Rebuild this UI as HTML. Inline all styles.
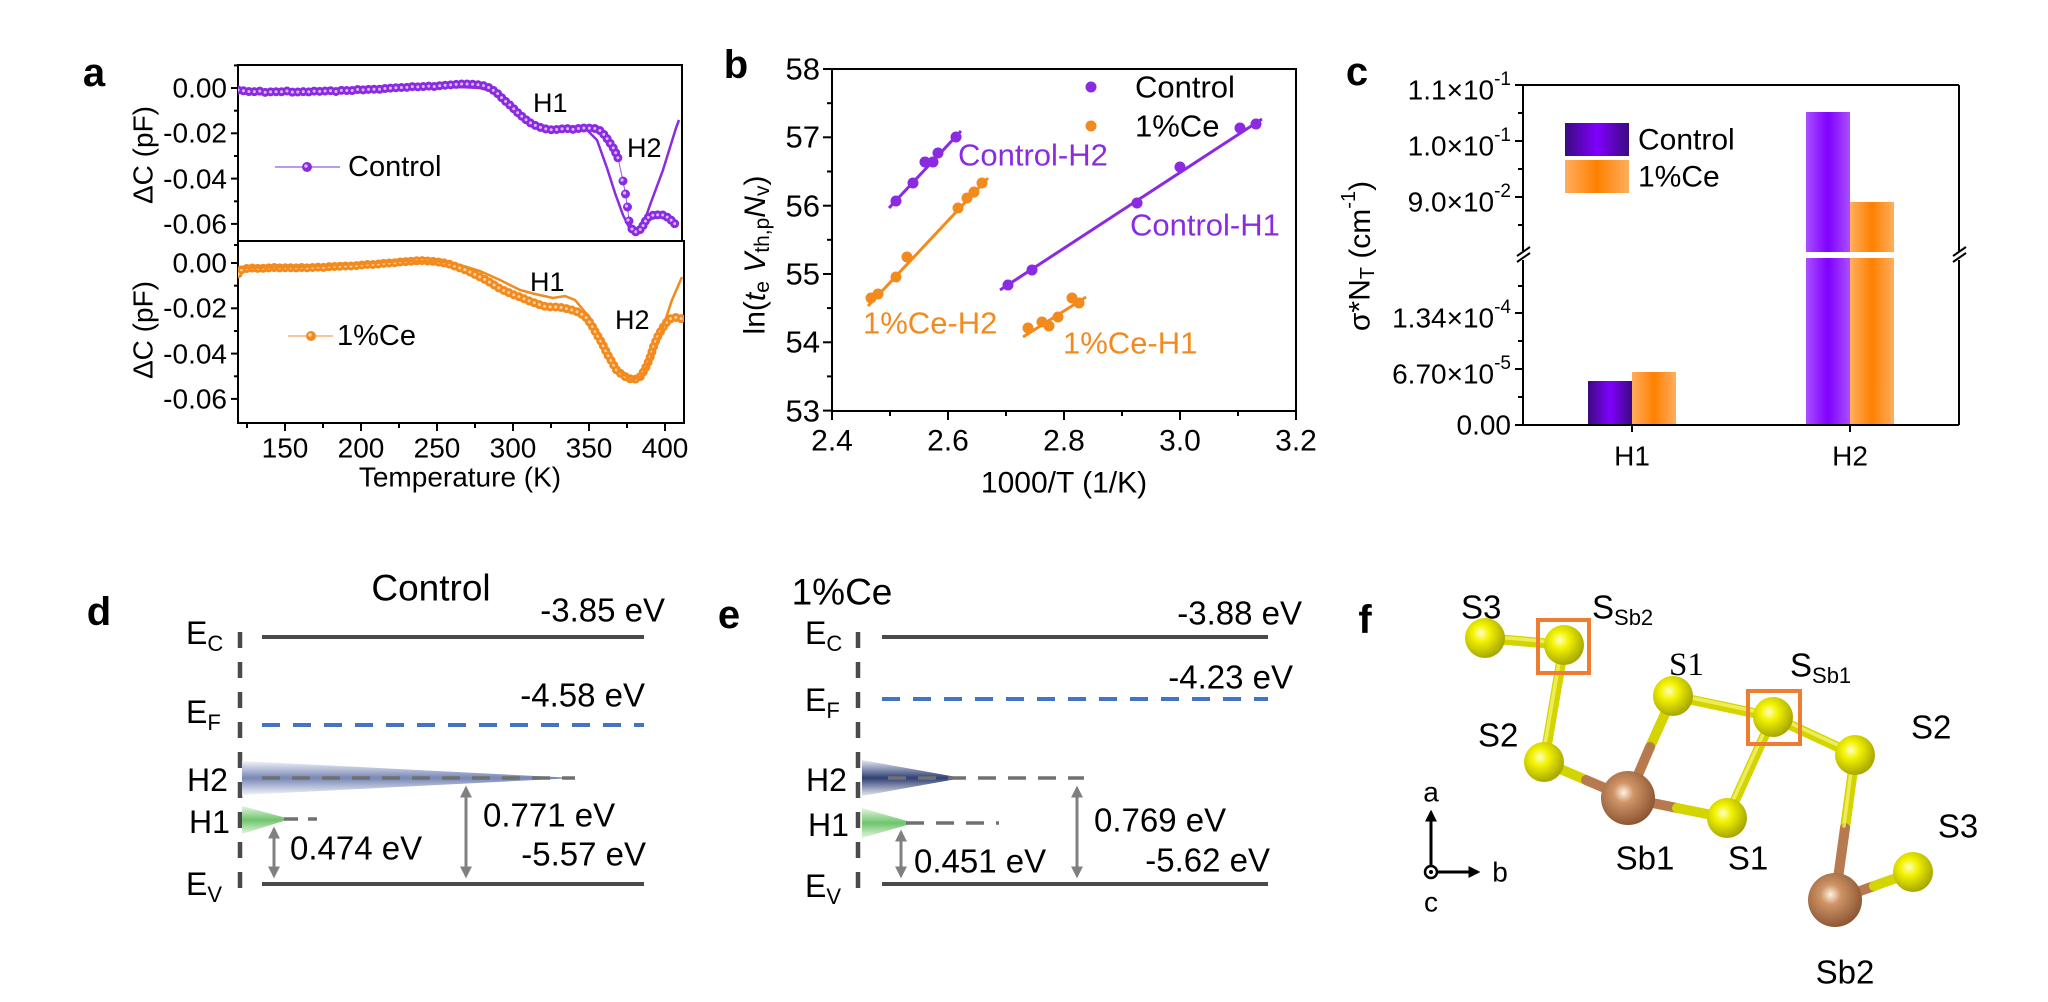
<!DOCTYPE html>
<html><head><meta charset="utf-8"><style>
html,body{margin:0;padding:0;background:#fff;}
svg{display:block;font-family:"Liberation Sans",Arial,sans-serif;}
</style></head><body>
<svg width="2048" height="1002" viewBox="0 0 2048 1002" xmlns="http://www.w3.org/2000/svg">
<defs>
<linearGradient id="gPD" x1="0" x2="1" y1="0" y2="0"><stop offset="0" stop-color="#3a0a80"/><stop offset="0.5" stop-color="#8000ff"/><stop offset="1" stop-color="#3a0a80"/></linearGradient>
<linearGradient id="gPL" x1="0" x2="1" y1="0" y2="0"><stop offset="0" stop-color="#a84fff"/><stop offset="0.5" stop-color="#8000ff"/><stop offset="1" stop-color="#a84fff"/></linearGradient>
<linearGradient id="gOR" x1="0" x2="1" y1="0" y2="0"><stop offset="0" stop-color="#ffae5e"/><stop offset="0.5" stop-color="#ff8000"/><stop offset="1" stop-color="#ffae5e"/></linearGradient>
<radialGradient id="gY" cx="0.4" cy="0.38" r="0.62"><stop offset="0" stop-color="#ffffc0"/><stop offset="0.35" stop-color="#f2f200"/><stop offset="1" stop-color="#a8a800"/></radialGradient>
<radialGradient id="gSb" cx="0.42" cy="0.4" r="0.62"><stop offset="0" stop-color="#fff2e4"/><stop offset="0.3" stop-color="#cf9466"/><stop offset="1" stop-color="#8a5532"/></radialGradient>
<linearGradient id="gH2d" x1="0" x2="0" y1="0" y2="1"><stop offset="0" stop-color="#f2f4fa"/><stop offset="0.5" stop-color="#7787b5"/><stop offset="1" stop-color="#f2f4fa"/></linearGradient>
<linearGradient id="gH2e" x1="0" x2="0" y1="0" y2="1"><stop offset="0" stop-color="#e6eaf5"/><stop offset="0.5" stop-color="#2f3f73"/><stop offset="1" stop-color="#e6eaf5"/></linearGradient>
<linearGradient id="gG" x1="0" x2="0" y1="0" y2="1"><stop offset="0" stop-color="#e4f6e0"/><stop offset="0.5" stop-color="#6fc46c"/><stop offset="1" stop-color="#e4f6e0"/></linearGradient>
<marker id="ag" viewBox="0 0 10 10" refX="8" refY="5" markerWidth="4" markerHeight="4" orient="auto-start-reverse"><path d="M0,0 L10,5 L0,10 z" fill="#808080"/></marker>
<marker id="ak" viewBox="0 0 10 10" refX="8" refY="5" markerWidth="4" markerHeight="4" orient="auto"><path d="M0,0 L10,5 L0,10 z" fill="#000"/></marker>
<clipPath id="cTop"><rect x="238" y="65" width="444" height="176"/></clipPath>
<clipPath id="cBot"><rect x="238" y="241" width="446" height="182"/></clipPath>
</defs>

<!-- ============ Panel a ============ -->
<text x="94" y="73" font-size="40" font-weight="bold" text-anchor="middle" dominant-baseline="central">a</text>
<g stroke="#000" stroke-width="2" fill="none">
<rect x="238" y="65" width="444" height="176"/>
<rect x="238" y="241" width="446" height="182"/>
</g>
<g stroke="#000" stroke-width="2">
<!-- top y ticks -->
<line x1="231" y1="88" x2="238" y2="88"/><line x1="231" y1="133.3" x2="238" y2="133.3"/><line x1="231" y1="178.6" x2="238" y2="178.6"/><line x1="231" y1="223.9" x2="238" y2="223.9"/>
<line x1="234" y1="65.4" x2="238" y2="65.4"/><line x1="234" y1="110.7" x2="238" y2="110.7"/><line x1="234" y1="156" x2="238" y2="156"/><line x1="234" y1="201.3" x2="238" y2="201.3"/>
<!-- bottom y ticks -->
<line x1="231" y1="263" x2="238" y2="263"/><line x1="231" y1="308.3" x2="238" y2="308.3"/><line x1="231" y1="353.6" x2="238" y2="353.6"/><line x1="231" y1="398.9" x2="238" y2="398.9"/>
<line x1="234" y1="245" x2="238" y2="245"/><line x1="234" y1="285.7" x2="238" y2="285.7"/><line x1="234" y1="331" x2="238" y2="331"/><line x1="234" y1="376.3" x2="238" y2="376.3"/>
<!-- x ticks -->
<line x1="285" y1="423" x2="285" y2="431"/><line x1="361" y1="423" x2="361" y2="431"/><line x1="437" y1="423" x2="437" y2="431"/><line x1="513" y1="423" x2="513" y2="431"/><line x1="589" y1="423" x2="589" y2="431"/><line x1="665" y1="423" x2="665" y2="431"/>
<line x1="247" y1="423" x2="247" y2="428"/><line x1="323" y1="423" x2="323" y2="428"/><line x1="399" y1="423" x2="399" y2="428"/><line x1="475" y1="423" x2="475" y2="428"/><line x1="551" y1="423" x2="551" y2="428"/><line x1="627" y1="423" x2="627" y2="428"/>
</g>
<g font-size="28" text-anchor="end" dominant-baseline="central">
<text x="227" y="88">0.00</text><text x="227" y="133">-0.02</text><text x="227" y="179">-0.04</text><text x="227" y="224">-0.06</text>
<text x="227" y="263">0.00</text><text x="227" y="308">-0.02</text><text x="227" y="354">-0.04</text><text x="227" y="399">-0.06</text>
</g>
<g font-size="28" text-anchor="middle" dominant-baseline="central">
<text x="285" y="448">150</text><text x="361" y="448">200</text><text x="437" y="448">250</text><text x="513" y="448">300</text><text x="589" y="448">350</text><text x="665" y="448">400</text>
<text x="460" y="477">Temperature (K)</text>
<text transform="translate(143,155) rotate(-90)">ΔC (pF)</text>
<text transform="translate(143,330) rotate(-90)">ΔC (pF)</text>
</g>
<!-- top data -->
<g clip-path="url(#cTop)">
<polyline fill="none" stroke="#8a2be2" stroke-width="2.5" points="238,91 300,91.5 360,90 420,88 460,87 480,88 495,92 507,101 520,113 535,123 550,128 575,129.5 587,130 597,140 607,168 615,193 623,215 630,229 636,233 642,228 650,205 663,170 676,128 679,120"/>
<polyline fill="none" stroke="#9b59e8" stroke-width="1" points="618,158 623,181 625.5,194 627.5,207 629,221 632,229"/>
<polyline id="tdA" fill="none" stroke="#8a2be2" stroke-width="9" stroke-linecap="round" stroke-dasharray="0 5.5" points="238,90 245,91 252,92 259,91 266,92.5 273,91.5 280,92 287,91 294,92.5 301,91.5 308,92 315,91 322,91.5 329,90.5 336,91.5 343,90 350,91 357,89.5 364,90 371,89 378,89.5 385,88.5 392,88 399,87.5 406,87.5 413,86.5 420,87 427,86 434,86.5 441,85.5 448,85 455,84.5 462,84 469,84 476,84.5 483,85.5 490,88 497,93 504,100 511,106 518,113 525,119 532,124 539,127 546,129 553,130 560,129 567,128.5 574,129.5 581,128 588,128 595,128.5 601,131 606,137 610,143 614,149 618,158"/>
<polyline fill="none" stroke="#d9b8ff" stroke-width="3" stroke-linecap="round" stroke-dasharray="0 5.5" points="238,90 245,91 252,92 259,91 266,92.5 273,91.5 280,92 287,91 294,92.5 301,91.5 308,92 315,91 322,91.5 329,90.5 336,91.5 343,90 350,91 357,89.5 364,90 371,89 378,89.5 385,88.5 392,88 399,87.5 406,87.5 413,86.5 420,87 427,86 434,86.5 441,85.5 448,85 455,84.5 462,84 469,84 476,84.5 483,85.5 490,88 497,93 504,100 511,106 518,113 525,119 532,124 539,127 546,129 553,130 560,129 567,128.5 574,129.5 581,128 588,128 595,128.5 601,131 606,137 610,143 614,149 618,158"/>
<g fill="#8a2be2"><circle cx="623" cy="181" r="4.5"/><circle cx="625.5" cy="194" r="4.5"/><circle cx="627.5" cy="207" r="4.5"/><circle cx="629" cy="221" r="4.5"/></g>
<g fill="#d9b8ff"><circle cx="622" cy="180" r="1.6"/><circle cx="624.5" cy="193" r="1.6"/><circle cx="626.5" cy="206" r="1.6"/><circle cx="628" cy="220" r="1.6"/></g>
<polyline fill="none" stroke="#8a2be2" stroke-width="9" stroke-linecap="round" stroke-dasharray="0 5" points="632,229 635,232 638,231 641,229 644,224 647,218 651,216 655,214.5 659,215 663,215 667,217 671,220 675,224 679,226"/>
<polyline fill="none" stroke="#d9b8ff" stroke-width="3" stroke-linecap="round" stroke-dasharray="0 5" points="632,229 635,232 638,231 641,229 644,224 647,218 651,216 655,214.5 659,215 663,215 667,217 671,220 675,224 679,226"/>
</g>
<!-- bottom data -->
<g clip-path="url(#cBot)">
<polyline fill="none" stroke="#f28a1e" stroke-width="9" stroke-linecap="round" stroke-dasharray="0 5.5" points="238,274 241,270 246,268.5 253,268 260,268.5 267,268 274,267.5 281,268 288,267.5 295,268 302,267.5 309,268 316,267 323,267.5 330,266.5 337,266.5 344,266 351,266 358,265.5 365,264.5 372,264.5 379,264 386,263 393,263 400,262 407,261.5 414,261 421,260.5 428,261 435,261.5 442,262.5 449,264 456,266.5 463,269 470,272 477,275.5 484,279 491,283 498,287.5 505,291 513,294.5 520,297 528,300.5 535,303 543,306 551,307 559,307 566,308.5 574,310.5 580,313 586,317.5 591,324 596,333 602,343 607,353.5 612,362 616,369.5 620,373 624,376 628,378 632,379.5 636,379 640,377 644,371 647,365 651,355 654,345 658,336 662,329 666,323 670,319 674,317.5 678,317.5 682,319"/>
<polyline fill="none" stroke="#ffd2a0" stroke-width="3" stroke-linecap="round" stroke-dasharray="0 5.5" points="238,274 241,270 246,268.5 253,268 260,268.5 267,268 274,267.5 281,268 288,267.5 295,268 302,267.5 309,268 316,267 323,267.5 330,266.5 337,266.5 344,266 351,266 358,265.5 365,264.5 372,264.5 379,264 386,263 393,263 400,262 407,261.5 414,261 421,260.5 428,261 435,261.5 442,262.5 449,264 456,266.5 463,269 470,272 477,275.5 484,279 491,283 498,287.5 505,291 513,294.5 520,297 528,300.5 535,303 543,306 551,307 559,307 566,308.5 574,310.5 580,313 586,317.5 591,324 596,333 602,343 607,353.5 612,362 616,369.5 620,373 624,376 628,378 632,379.5 636,379 640,377 644,371 647,365 651,355 654,345 658,336 662,329 666,323 670,319 674,317.5 678,317.5 682,319"/>
<polyline fill="none" stroke="#f28a1e" stroke-width="2.5" points="238,268 300,267 360,264 400,261 440,261.5 460,265 480,271 500,280 520,290 535,294 553,298 565,296 575,300 590,318 605,345 620,372 632,380 642,376 652,355 662,330 672,300 682,277"/>
</g>
<!-- a legends & labels -->
<line x1="275" y1="167" x2="340" y2="167" stroke="#9b59e8" stroke-width="1.2"/>
<circle cx="307" cy="167" r="5" fill="#8a2be2"/><circle cx="306" cy="166" r="1.8" fill="#d9b8ff"/>
<text x="348" y="167" font-size="29" dominant-baseline="central">Control</text>
<line x1="288" y1="336" x2="333" y2="336" stroke="#f2a560" stroke-width="1.2"/>
<circle cx="311" cy="336" r="5" fill="#f28a1e"/><circle cx="310" cy="335" r="1.8" fill="#ffd2a0"/>
<text x="337" y="336" font-size="29" dominant-baseline="central">1%Ce</text>
<g font-size="27" dominant-baseline="central">
<text x="533" y="103">H1</text><text x="627" y="148">H2</text>
<text x="530" y="282">H1</text><text x="615" y="320">H2</text>
</g>

<!-- ============ Panel b ============ -->
<text x="736" y="65" font-size="40" font-weight="bold" text-anchor="middle" dominant-baseline="central">b</text>
<rect x="832" y="69" width="464" height="342" fill="none" stroke="#000" stroke-width="2"/>
<g stroke="#000" stroke-width="2">
<line x1="823" y1="69" x2="832" y2="69"/><line x1="823" y1="137.3" x2="832" y2="137.3"/><line x1="823" y1="205.7" x2="832" y2="205.7"/><line x1="823" y1="274" x2="832" y2="274"/><line x1="823" y1="342.3" x2="832" y2="342.3"/><line x1="823" y1="410.6" x2="832" y2="410.6"/>
<line x1="827" y1="103.2" x2="832" y2="103.2"/><line x1="827" y1="171.5" x2="832" y2="171.5"/><line x1="827" y1="239.8" x2="832" y2="239.8"/><line x1="827" y1="308.1" x2="832" y2="308.1"/><line x1="827" y1="376.4" x2="832" y2="376.4"/>
<line x1="832" y1="411" x2="832" y2="420"/><line x1="948" y1="411" x2="948" y2="420"/><line x1="1064" y1="411" x2="1064" y2="420"/><line x1="1180" y1="411" x2="1180" y2="420"/><line x1="1296" y1="411" x2="1296" y2="420"/>
<line x1="890" y1="411" x2="890" y2="416"/><line x1="1006" y1="411" x2="1006" y2="416"/><line x1="1122" y1="411" x2="1122" y2="416"/><line x1="1238" y1="411" x2="1238" y2="416"/>
</g>
<g font-size="31" text-anchor="end" dominant-baseline="central">
<text x="820" y="69">58</text><text x="820" y="137">57</text><text x="820" y="206">56</text><text x="820" y="274">55</text><text x="820" y="342">54</text><text x="820" y="411">53</text>
</g>
<g font-size="30" text-anchor="middle" dominant-baseline="central">
<text x="832" y="441">2.4</text><text x="948" y="441">2.6</text><text x="1064" y="441">2.8</text><text x="1180" y="441">3.0</text><text x="1296" y="441">3.2</text>
<text x="1064" y="483">1000/T (1/K)</text>
<text transform="translate(755,255) rotate(-90)">ln(<tspan font-style="italic">t</tspan><tspan font-size="21" dy="7">e</tspan><tspan dy="-7"> </tspan><tspan font-style="italic">V</tspan><tspan font-size="21" dy="7">th,p</tspan><tspan font-style="italic" dy="-7">N</tspan><tspan font-size="21" dy="7">v</tspan><tspan dy="-7">)</tspan></text>
</g>
<g stroke-width="3">
<line x1="889" y1="208" x2="961" y2="131" stroke="#8a2be2"/>
<line x1="868" y1="306" x2="988" y2="178" stroke="#f28a1e"/>
<line x1="1000" y1="290" x2="1262" y2="119" stroke="#8a2be2"/>
<line x1="1023" y1="337" x2="1086" y2="297" stroke="#f28a1e"/>
</g>
<g fill="#8a2be2">
<circle cx="896" cy="201" r="5.5"/><circle cx="913" cy="183" r="5.5"/><circle cx="925" cy="162" r="5.5"/><circle cx="933" cy="162" r="5.5"/><circle cx="938" cy="153" r="5.5"/><circle cx="956" cy="137" r="5.5"/>
<circle cx="1008" cy="285" r="5.5"/><circle cx="1032" cy="270" r="5.5"/><circle cx="1137" cy="203" r="5.5"/><circle cx="1180" cy="167" r="5.5"/><circle cx="1240" cy="128" r="5.5"/><circle cx="1256" cy="124" r="5.5"/>
<circle cx="1091" cy="87" r="5.5"/>
</g>
<g fill="#f28a1e">
<circle cx="871" cy="298" r="5.5"/><circle cx="878" cy="294" r="5.5"/><circle cx="896" cy="277" r="5.5"/><circle cx="907" cy="257" r="5.5"/><circle cx="958" cy="208" r="5.5"/><circle cx="967" cy="198" r="5.5"/><circle cx="974" cy="192" r="5.5"/><circle cx="982" cy="183" r="5.5"/>
<circle cx="1028" cy="328" r="5.5"/><circle cx="1042" cy="322" r="5.5"/><circle cx="1049" cy="326" r="5.5"/><circle cx="1058" cy="317" r="5.5"/><circle cx="1072" cy="298" r="5.5"/><circle cx="1079" cy="303" r="5.5"/>
<circle cx="1091" cy="126" r="5.5"/>
</g>
<g font-size="31" dominant-baseline="central">
<text x="1135" y="87">Control</text><text x="1135" y="126">1%Ce</text>
<text x="958" y="155" fill="#8a2be2">Control-H2</text>
<text x="1130" y="225" fill="#8a2be2">Control-H1</text>
<text x="863" y="323" fill="#f28a1e">1%Ce-H2</text>
<text x="1063" y="343" fill="#f28a1e">1%Ce-H1</text>
</g>

<!-- ============ Panel c ============ -->
<text x="1357" y="72" font-size="40" font-weight="bold" text-anchor="middle" dominant-baseline="central">c</text>
<!-- bars -->
<rect x="1588" y="381" width="44" height="44" fill="url(#gPD)"/>
<rect x="1632" y="372" width="44" height="53" fill="url(#gOR)"/>
<rect x="1806" y="112" width="44" height="313" fill="url(#gPL)"/>
<rect x="1850" y="202" width="44" height="223" fill="url(#gOR)"/>
<rect x="1800" y="252" width="100" height="6" fill="#fff"/>
<!-- axes -->
<g stroke="#000" stroke-width="2" fill="none">
<line x1="1523" y1="85" x2="1959" y2="85"/>
<line x1="1523" y1="425" x2="1959" y2="425"/>
<line x1="1523" y1="85" x2="1523" y2="251"/><line x1="1523" y1="260" x2="1523" y2="425"/>
<line x1="1959" y1="85" x2="1959" y2="251"/><line x1="1959" y1="260" x2="1959" y2="425"/>
<line x1="1517" y1="256" x2="1530" y2="247"/><line x1="1517" y1="262" x2="1530" y2="253"/>
<line x1="1953" y1="256" x2="1966" y2="247"/><line x1="1953" y1="262" x2="1966" y2="253"/>
<line x1="1515" y1="85" x2="1523" y2="85"/><line x1="1515" y1="141" x2="1523" y2="141"/><line x1="1515" y1="197" x2="1523" y2="197"/><line x1="1515" y1="313" x2="1523" y2="313"/><line x1="1515" y1="369" x2="1523" y2="369"/><line x1="1515" y1="425" x2="1523" y2="425"/>
<line x1="1518" y1="113" x2="1523" y2="113"/><line x1="1518" y1="169" x2="1523" y2="169"/><line x1="1518" y1="225" x2="1523" y2="225"/><line x1="1518" y1="286" x2="1523" y2="286"/><line x1="1518" y1="341" x2="1523" y2="341"/><line x1="1518" y1="397" x2="1523" y2="397"/>
<line x1="1632" y1="425" x2="1632" y2="432"/><line x1="1850" y1="425" x2="1850" y2="432"/>
</g>
<g font-size="28" text-anchor="end" dominant-baseline="central">
<text x="1511" y="90">1.1×10<tspan font-size="19" dy="-11">-1</tspan></text>
<text x="1511" y="146">1.0×10<tspan font-size="19" dy="-11">-1</tspan></text>
<text x="1511" y="202">9.0×10<tspan font-size="19" dy="-11">-2</tspan></text>
<text x="1511" y="318">1.34×10<tspan font-size="19" dy="-11">-4</tspan></text>
<text x="1511" y="374">6.70×10<tspan font-size="19" dy="-11">-5</tspan></text>
<text x="1511" y="425">0.00</text>
</g>
<text transform="translate(1360,256) rotate(-90)" font-size="30" text-anchor="middle" dominant-baseline="central">σ*N<tspan font-size="20" dy="8">T</tspan><tspan dy="-8"> (cm</tspan><tspan font-size="20" dy="-11">-1</tspan><tspan dy="11">)</tspan></text>
<g font-size="28" text-anchor="middle" dominant-baseline="central">
<text x="1632" y="456">H1</text><text x="1850" y="456">H2</text>
</g>
<rect x="1565" y="123" width="64" height="33" fill="url(#gPD)"/>
<rect x="1565" y="160" width="64" height="33" fill="url(#gOR)"/>
<text x="1638" y="140" font-size="30" dominant-baseline="central">Control</text>
<text x="1638" y="177" font-size="30" dominant-baseline="central">1%Ce</text>

<!-- ============ Panel d ============ -->
<text x="99" y="612" font-size="40" font-weight="bold" text-anchor="middle" dominant-baseline="central">d</text>
<text x="431" y="588" font-size="37" text-anchor="middle" dominant-baseline="central">Control</text>
<line x1="240" y1="632" x2="240" y2="902" stroke="#4a4a4a" stroke-width="4.5" stroke-dasharray="16 14"/>
<line x1="262" y1="637" x2="644" y2="637" stroke="#4a4a4a" stroke-width="4"/>
<line x1="262" y1="725" x2="644" y2="725" stroke="#4472c4" stroke-width="4" stroke-dasharray="18 13"/>
<polygon points="242,761 575,778 242,795" fill="url(#gH2d)"/>
<line x1="262" y1="778" x2="575" y2="778" stroke="#707070" stroke-width="3.5" stroke-dasharray="18 12"/>
<polygon points="242,806 290,819 242,834" fill="url(#gG)"/>
<line x1="284" y1="819" x2="317" y2="819" stroke="#707070" stroke-width="3.5" stroke-dasharray="14 10"/>
<line x1="262" y1="884" x2="644" y2="884" stroke="#4a4a4a" stroke-width="4"/>
<line x1="274" y1="829" x2="274" y2="876" stroke="#808080" stroke-width="3" marker-start="url(#ag)" marker-end="url(#ag)"/>
<line x1="466" y1="788" x2="466" y2="876" stroke="#808080" stroke-width="3" marker-start="url(#ag)" marker-end="url(#ag)"/>
<g font-size="32" dominant-baseline="central">
<text x="186" y="633">E<tspan font-size="22" dy="10">C</tspan></text>
<text x="186" y="712">E<tspan font-size="22" dy="10">F</tspan></text>
<text x="187" y="780">H2</text>
<text x="189" y="822">H1</text>
<text x="186" y="884">E<tspan font-size="22" dy="10">V</tspan></text>
</g>
<g font-size="33" dominant-baseline="central">
<text x="665" y="610" text-anchor="end">-3.85 eV</text>
<text x="645" y="695" text-anchor="end">-4.58 eV</text>
<text x="646" y="854" text-anchor="end">-5.57 eV</text>
<text x="290" y="848">0.474 eV</text>
<text x="483" y="815">0.771 eV</text>
</g>

<!-- ============ Panel e ============ -->
<text x="729" y="615" font-size="40" font-weight="bold" text-anchor="middle" dominant-baseline="central">e</text>
<text x="842" y="592" font-size="37" text-anchor="middle" dominant-baseline="central">1%Ce</text>
<line x1="858" y1="632" x2="858" y2="902" stroke="#4a4a4a" stroke-width="4.5" stroke-dasharray="16 14"/>
<line x1="882" y1="637" x2="1268" y2="637" stroke="#4a4a4a" stroke-width="4"/>
<line x1="882" y1="699" x2="1268" y2="699" stroke="#4472c4" stroke-width="4" stroke-dasharray="18 13"/>
<polygon points="862,760 962,778 862,796" fill="url(#gH2e)"/>
<line x1="888" y1="778" x2="1084" y2="778" stroke="#707070" stroke-width="3.5" stroke-dasharray="18 12"/>
<polygon points="862,808 914,823 862,838" fill="url(#gG)"/>
<line x1="906" y1="823" x2="999" y2="823" stroke="#707070" stroke-width="3.5" stroke-dasharray="18 12"/>
<line x1="882" y1="884" x2="1268" y2="884" stroke="#4a4a4a" stroke-width="4"/>
<line x1="901" y1="832" x2="901" y2="876" stroke="#808080" stroke-width="3" marker-start="url(#ag)" marker-end="url(#ag)"/>
<line x1="1077" y1="788" x2="1077" y2="876" stroke="#808080" stroke-width="3" marker-start="url(#ag)" marker-end="url(#ag)"/>
<g font-size="32" dominant-baseline="central">
<text x="805" y="633">E<tspan font-size="22" dy="10">C</tspan></text>
<text x="805" y="700">E<tspan font-size="22" dy="10">F</tspan></text>
<text x="806" y="780">H2</text>
<text x="808" y="825">H1</text>
<text x="805" y="886">E<tspan font-size="22" dy="10">V</tspan></text>
</g>
<g font-size="33" dominant-baseline="central">
<text x="1302" y="613" text-anchor="end">-3.88 eV</text>
<text x="1293" y="677" text-anchor="end">-4.23 eV</text>
<text x="1270" y="860" text-anchor="end">-5.62 eV</text>
<text x="914" y="861">0.451 eV</text>
<text x="1094" y="820">0.769 eV</text>
</g>

<!-- ============ Panel f ============ -->
<text x="1365" y="620" font-size="40" font-weight="bold" text-anchor="middle" dominant-baseline="central">f</text>
<!-- bonds -->
<g stroke-width="10" stroke-linecap="round" fill="none">
<line x1="1485" y1="638" x2="1564" y2="645" stroke="#d4d400"/>
<line x1="1564" y1="645" x2="1544" y2="762" stroke="#d4d400"/>
<line x1="1544" y1="762" x2="1586" y2="780" stroke="#d4d400"/>
<line x1="1586" y1="780" x2="1628" y2="798" stroke="#b77a4e"/>
<line x1="1673" y1="696" x2="1650" y2="747" stroke="#d4d400"/>
<line x1="1650" y1="747" x2="1628" y2="798" stroke="#b77a4e"/>
<line x1="1673" y1="696" x2="1773" y2="717" stroke="#d4d400"/>
<line x1="1773" y1="717" x2="1855" y2="755" stroke="#d4d400"/>
<line x1="1773" y1="717" x2="1727" y2="818" stroke="#d4d400"/>
<line x1="1628" y1="798" x2="1677" y2="808" stroke="#b77a4e"/>
<line x1="1677" y1="808" x2="1727" y2="818" stroke="#d4d400"/>
<line x1="1855" y1="755" x2="1845" y2="828" stroke="#d4d400"/>
<line x1="1845" y1="828" x2="1835" y2="900" stroke="#b77a4e"/>
<line x1="1835" y1="900" x2="1874" y2="886" stroke="#b77a4e"/>
<line x1="1874" y1="886" x2="1913" y2="872" stroke="#d4d400"/>
</g>
<g stroke-width="3.5" stroke-linecap="round" fill="none" opacity="0.7">
<line x1="1485" y1="636" x2="1564" y2="643" stroke="#f8f880"/>
<line x1="1562" y1="645" x2="1542" y2="762" stroke="#f8f880"/>
<line x1="1673" y1="694" x2="1773" y2="715" stroke="#f8f880"/>
<line x1="1773" y1="715" x2="1855" y2="753" stroke="#f8f880"/>
<line x1="1771" y1="717" x2="1725" y2="818" stroke="#f8f880"/>
<line x1="1853" y1="755" x2="1844" y2="826" stroke="#f8f880"/>
</g>
<!-- atoms -->
<g fill="url(#gY)">
<circle cx="1485" cy="638" r="20"/>
<circle cx="1564" cy="645" r="20"/>
<circle cx="1544" cy="762" r="20"/>
<circle cx="1673" cy="696" r="20"/>
<circle cx="1773" cy="717" r="20"/>
<circle cx="1855" cy="755" r="20"/>
<circle cx="1727" cy="818" r="20"/>
<circle cx="1913" cy="872" r="20"/>
</g>
<g fill="url(#gSb)">
<circle cx="1628" cy="798" r="27"/>
<circle cx="1835" cy="900" r="27"/>
</g>
<rect x="1538" y="620" width="51" height="53" fill="none" stroke="#ed7d31" stroke-width="4"/>
<rect x="1748" y="691" width="52" height="53" fill="none" stroke="#ed7d31" stroke-width="4"/>
<g font-size="33" dominant-baseline="central">
<text x="1461" y="607">S3</text>
<text x="1592" y="607">S<tspan font-size="22" dy="10">Sb2</tspan></text>
<text x="1669" y="665" font-family="Liberation Serif, serif">S1</text>
<text x="1790" y="665">S<tspan font-size="22" dy="10">Sb1</tspan></text>
<text x="1478" y="735">S2</text>
<text x="1911" y="727">S2</text>
<text x="1645" y="858" text-anchor="middle">Sb1</text>
<text x="1748" y="858" text-anchor="middle">S1</text>
<text x="1958" y="826" text-anchor="middle">S3</text>
<text x="1845" y="972" text-anchor="middle">Sb2</text>
</g>
<!-- axis indicator -->
<g stroke="#000" stroke-width="3" fill="none">
<line x1="1431" y1="866" x2="1431" y2="812" marker-end="url(#ak)"/>
<line x1="1437" y1="872" x2="1478" y2="872" marker-end="url(#ak)"/>
<circle cx="1431" cy="872" r="6" stroke-width="2.5"/>
</g>
<circle cx="1431" cy="872" r="2" fill="#000"/>
<g font-size="28" text-anchor="middle" dominant-baseline="central">
<text x="1431" y="792">a</text>
<text x="1500" y="872">b</text>
<text x="1431" y="902">c</text>
</g>
</svg>
</body></html>
